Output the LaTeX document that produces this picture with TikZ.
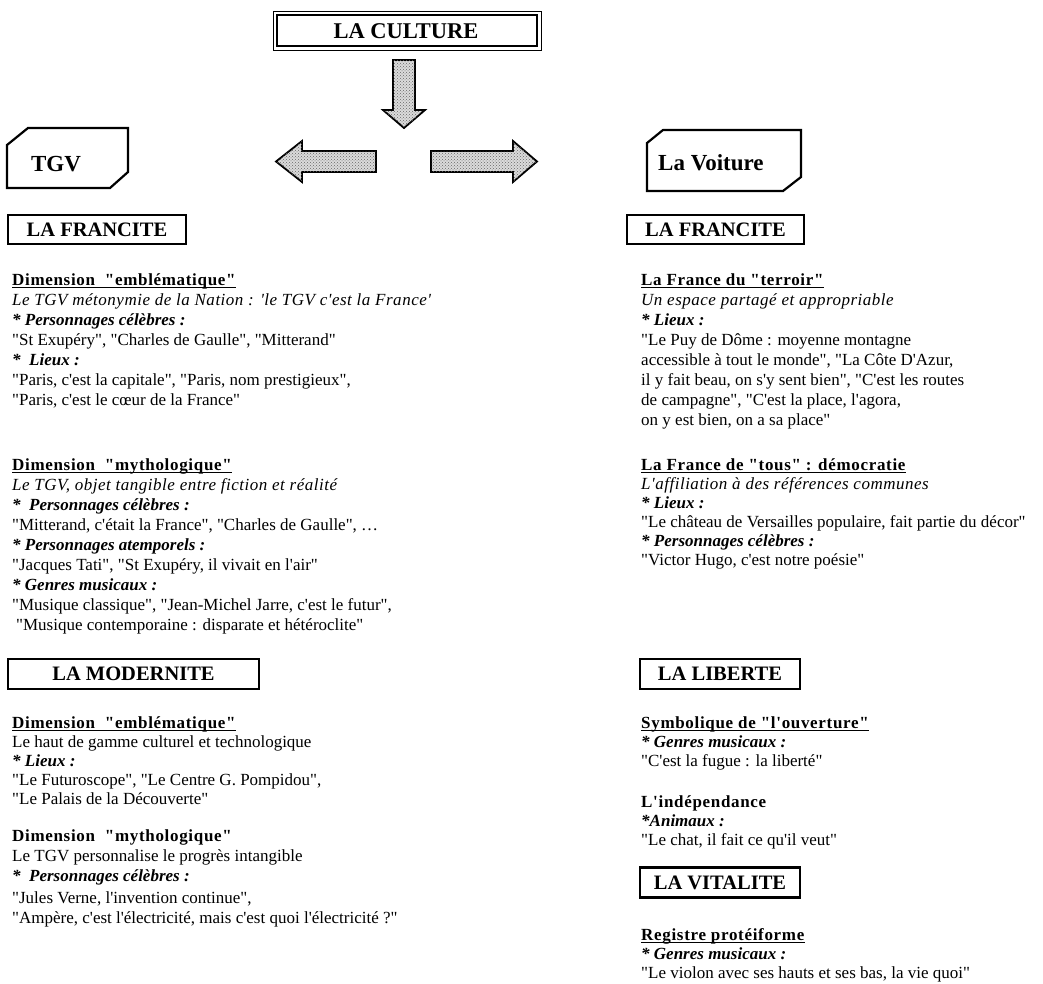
\documentclass[tikz,border=0pt]{standalone}
\usepackage{fontspec}
\usetikzlibrary{patterns}
\setmainfont{Liberation Serif}[Ligatures=TeXOff]
\newfontfamily\spacedfont{Liberation Serif}[Ligatures=TeXOff,LetterSpace=4]
\newfontfamily\itspaced{Liberation Serif}[Ligatures=TeXOff,LetterSpace=3]
\newcommand\Hd[1]{{\spacedfont\bfseries #1}}
\newcommand\BI[1]{\textbf{\textit{#1}}}
\newcommand\IT[1]{{\itspaced\itshape #1}}
\tikzset{
  ln/.style={anchor=base west, inner sep=0pt, font=\fontsize{17}{20}\selectfont},
  hbox/.style={draw, line width=2.2pt, inner sep=0pt, font=\bfseries\fontsize{20.5}{24}\selectfont},
  tagbox/.style={line width=2.2pt, line join=miter},
  tagtext/.style={inner sep=0pt, font=\bfseries\fontsize{23}{27}\selectfont},
  barrow/.style={draw, line width=1.8pt, fill=black!14, line join=miter,
    postaction={pattern=crosshatch dots, pattern color=black!60}},
  ul/.style={line width=1pt},
}
\newcommand\UL[1]{\draw[ul] ([yshift=-2.6pt]#1.base west) -- ([yshift=-2.6pt]#1.base east);}
\begin{document}
\begin{tikzpicture}[x=1pt,y=-1pt]
\useasboundingbox (0,0) rectangle (1043,983);
% title
\draw[line width=0.9pt] (273,11) rectangle (541,50);
\draw[line width=1.5pt] (277,15) rectangle (537,46);
\node[inner sep=0pt, font=\bfseries\fontsize{22.5}{27}\selectfont] (culture) at (406,31.5) {LA CULTURE};
% block arrows
\draw[barrow] (393,60)--(415,60)--(415,110)--(425,110)--(404,128)--(383,110)--(393,110)--cycle;
\draw[barrow] (376,151)--(302,151)--(302,141)--(276,161.5)--(302,182)--(302,172)--(376,172)--cycle;
\draw[barrow] (431,151)--(513,151)--(513,141)--(537,161.5)--(513,182)--(513,172)--(431,172)--cycle;
% TGV / La Voiture tags
\draw[tagbox] (7,145)--(28,128)--(128,128)--(128,172)--(110,188)--(7,188)--cycle;
\node[tagtext] (tgv) at (56,164) {TGV};
\draw[tagbox] (647,143)--(663,130)--(801,130)--(801,177)--(783,191)--(647,191)--cycle;
\node[tagtext, anchor=west] (voiture) at (658,163) {La Voiture};
% section boxes
\node[hbox, minimum width=178pt, minimum height=29pt] (fr1) at (97,229.5) {LA FRANCITE};
\node[hbox, minimum width=177pt, minimum height=29pt] (fr2) at (715.5,229.5) {LA FRANCITE};
\node[hbox, minimum width=251pt, minimum height=30pt] (mod) at (133.5,674) {LA MODERNITE};
\node[hbox, minimum width=160pt, minimum height=30pt] (lib) at (720,674) {LA LIBERTE};
\node[hbox, minimum width=160pt, minimum height=30pt] (vit) at (720,882.5) {LA VITALITE};
% left column
\node[ln] (a1) at (12,285) {\Hd{Dimension\ \ "emblématique"}};
\node[ln] (a2) at (12,305) {\IT{Le TGV métonymie de la Nation : 'le TGV c'est la France'}};
\node[ln] (a3) at (12,325) {\BI{* Personnages célèbres :}};
\node[ln] (a4) at (12,345) {"St Exupéry", "Charles de Gaulle", "Mitterand"};
\node[ln] (a5) at (12,365) {\BI{*\ \ Lieux :}};
\node[ln] (a6) at (12,385) {"Paris, c'est la capitale", "Paris, nom prestigieux",};
\node[ln] (a7) at (12,405) {"Paris, c'est le cœur de la France"};
\node[ln] (b1) at (12,470) {\Hd{Dimension\ \ "mythologique"}};
\node[ln] (b2) at (12,490) {\IT{Le TGV, objet tangible entre fiction et réalité}};
\node[ln] (b3) at (12,510) {\BI{*\ \ Personnages célèbres :}};
\node[ln] (b4) at (12,530) {"Mitterand, c'était la France", "Charles de Gaulle", …};
\node[ln] (b5) at (12,550) {\BI{* Personnages atemporels :}};
\node[ln] (b6) at (12,570) {"Jacques Tati", "St Exupéry, il vivait en l'air"};
\node[ln] (b7) at (12,590) {\BI{* Genres musicaux :}};
\node[ln] (b8) at (12,610) {"Musique classique", "Jean-Michel Jarre, c'est le futur",};
\node[ln] (b9) at (16,630) {"Musique contemporaine : disparate et hétéroclite"};
\node[ln] (c1) at (12,728) {\Hd{Dimension\ \ "emblématique"}};
\node[ln] (c2) at (12,747) {Le haut de gamme culturel et technologique};
\node[ln] (c3) at (12,766) {\BI{* Lieux :}};
\node[ln] (c4) at (12,785) {"Le Futuroscope", "Le Centre G. Pompidou",};
\node[ln] (c5) at (12,804) {"Le Palais de la Découverte"};
\node[ln] (d1) at (12,841) {\Hd{Dimension\ \ "mythologique"}};
\node[ln] (d2) at (12,861) {Le TGV personnalise le progrès intangible};
\node[ln] (d3) at (12,881) {\BI{*\ \ Personnages célèbres :}};
\node[ln] (d4) at (12,903) {"Jules Verne, l'invention continue",};
\node[ln] (d5) at (12,923) {"Ampère, c'est l'électricité, mais c'est quoi l'électricité ?"};
% right column
\node[ln] (e1) at (641,285) {\Hd{La France du "terroir"}};
\node[ln] (e2) at (641,305) {\IT{Un espace partagé et appropriable}};
\node[ln] (e3) at (641,325) {\BI{* Lieux :}};
\node[ln] (e4) at (641,345) {"Le Puy de Dôme : moyenne montagne};
\node[ln] (e5) at (641,365) {accessible à tout le monde", "La Côte D'Azur,};
\node[ln] (e6) at (641,385) {il y fait beau, on s'y sent bien", "C'est les routes};
\node[ln] (e7) at (641,405) {de campagne", "C'est la place, l'agora,};
\node[ln] (e8) at (641,425) {on y est bien, on a sa place"};
\node[ln] (f1) at (641,470) {\Hd{La France de "tous" : démocratie}};
\node[ln] (f2) at (641,489) {\IT{L'affiliation à des références communes}};
\node[ln] (f3) at (641,508) {\BI{* Lieux :}};
\node[ln] (f4) at (641,527) {"Le château de Versailles populaire, fait partie du décor"};
\node[ln] (f5) at (641,546) {\BI{* Personnages célèbres :}};
\node[ln] (f6) at (641,565) {"Victor Hugo, c'est notre poésie"};
\node[ln] (g1) at (641,728) {\Hd{Symbolique de "l'ouverture"}};
\node[ln] (g2) at (641,747) {\BI{* Genres musicaux :}};
\node[ln] (g3) at (641,766) {"C'est la fugue : la liberté"};
\node[ln] (h1) at (641,807) {\Hd{L'indépendance}};
\node[ln] (h2) at (641,826) {\BI{*Animaux :}};
\node[ln] (h3) at (641,845) {"Le chat, il fait ce qu'il veut"};
\node[ln] (i1) at (641,940) {\Hd{Registre protéiforme}};
\node[ln] (i2) at (641,959) {\BI{* Genres musicaux :}};
\node[ln] (i3) at (641,978) {"Le violon avec ses hauts et ses bas, la vie quoi"};
% underlines
\UL{a1}\UL{b1}\UL{c1}\UL{e1}\UL{f1}\UL{g1}\UL{i1}
\end{tikzpicture}
\end{document}
